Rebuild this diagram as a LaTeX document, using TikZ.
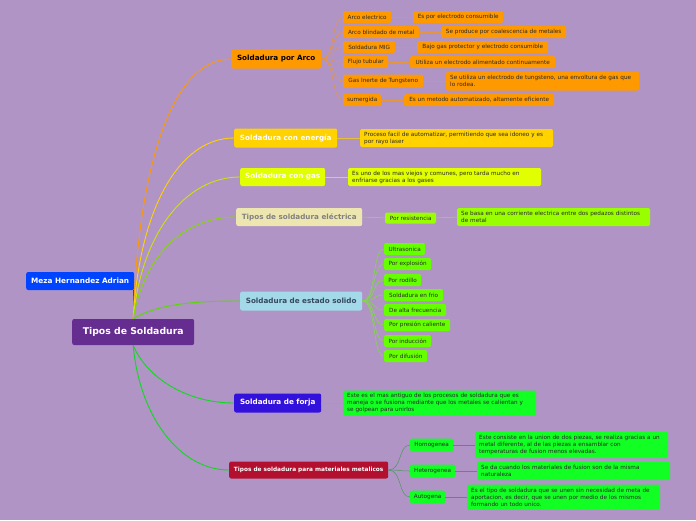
\documentclass[tikz,border=0pt]{standalone}
\usepackage{fontspec}
\setmainfont{DejaVu Sans}
\definecolor{bg}{HTML}{B094C6}
\definecolor{rootc}{HTML}{662D91}
\definecolor{mezac}{HTML}{0044FF}
\definecolor{orangec}{HTML}{FF9900}
\definecolor{goldc}{HTML}{FFD200}
\definecolor{gasc}{HTML}{E1FF00}
\definecolor{beigec}{HTML}{EEE6B0}
\definecolor{limec}{HTML}{99FF00}
\definecolor{greenA}{HTML}{66FF00}
\definecolor{bluelc}{HTML}{A3D9E8}
\definecolor{forjac}{HTML}{3311DD}
\definecolor{greenB}{HTML}{11FF22}
\definecolor{crimc}{HTML}{B3102F}
\definecolor{txtd}{HTML}{2A2A2A}
\definecolor{slatec}{HTML}{34495E}
\tikzset{
  base/.style={rounded corners=2pt, inner sep=0pt, anchor=west, align=center},
  rootbox/.style={base, font=\bfseries\fontsize{9.3}{11}\selectfont, text=white, fill=rootc, minimum width=122pt, minimum height=26pt},
  mainbox/.style={base, font=\bfseries\fontsize{7.2}{8.5}\selectfont, minimum height=19pt},
  subbox/.style={base, rounded corners=1.5pt, font=\fontsize{5.7}{7}\selectfont, text=txtd, minimum height=12pt},
  valbox/.style={subbox, align=left, inner xsep=4pt},
  link/.style={line width=0.9pt},
  sublink/.style={line width=0.5pt},
}
\begin{document}
\begin{tikzpicture}[x=1pt,y=-1pt]
\fill[bg] (0,0) rectangle (696,520);
\useasboundingbox (0,0) rectangle (696,520);

% root and author
\node[rootbox] (root) at (72,332) {Tipos de Soldadura};
\node[mainbox, fill=mezac, text=white, minimum width=108pt, minimum height=18pt, font=\bfseries\fontsize{7.3}{8.5}\selectfont] (meza) at (26,281) {Meza Hernandez Adrian};

% main topics
\node[mainbox, fill=orangec, text=black, minimum width=90pt] (arco) at (231,59) {Soldadura por Arco};
\node[mainbox, fill=goldc, text=white, minimum width=103pt] (ener) at (234,138) {Soldadura con energía};
\node[mainbox, fill=gasc, text=white, minimum width=85pt, minimum height=18pt] (gas) at (240,177) {Soldadura con gas};
\node[mainbox, fill=beigec, text=gray, minimum width=126pt, minimum height=18pt] (elec) at (236,217) {Tipos de soldadura eléctrica};
\node[mainbox, fill=bluelc, text=slatec, minimum width=122pt] (sol) at (240,301) {Soldadura de estado solido};
\node[mainbox, fill=forjac, text=white, minimum width=87pt] (forja) at (234,403) {Soldadura de forja};
\node[mainbox, fill=crimc, text=white, minimum width=159pt, minimum height=17pt, font=\bfseries\fontsize{5.8}{7}\selectfont] (met) at (229,470) {Tipos de soldadura para materiales metalicos};

% main connectors
\draw[link, mezac] (meza.south east) ++(-1,0) coordinate (mz) -- (mz |- root.north);
\draw[link, orangec] (root.north) .. controls +(5,-150) and +(-60,0) .. (arco.west);
\draw[link, goldc] (root.north) .. controls +(6,-110) and +(-55,0) .. (ener.west);
\draw[link, gasc!90!black] (root.north) .. controls +(8,-85) and +(-55,0) .. (gas.west);
\draw[link, limec!85!black] (root.north) .. controls +(10,-60) and +(-55,0) .. (elec.west);
\draw[link, greenA!85!black] (root.north) .. controls +(25,-15) and +(-45,0) .. (sol.west);
\draw[link, greenB!85!black] (root.south) .. controls +(12,30) and +(-50,0) .. (forja.west);
\draw[link, greenB!85!black] (root.south) .. controls +(6,70) and +(-50,0) .. (met.west);

% Arco children
\begin{scope}[every node/.append style={fill=orangec}]
\node[subbox, minimum width=48pt] (a1) at (343,17) {Arco electrico};
\node[subbox, minimum width=90pt] (v1) at (413,17) {Es por electrodo consumible};
\node[subbox, minimum width=76pt] (a2) at (343,32) {Arco blindado de metal};
\node[subbox, minimum width=125pt] (v2) at (441,32) {Se produce por coalescencia de metales};
\node[subbox, minimum width=52pt] (a3) at (343,47) {Soldadura MIG};
\node[subbox, minimum width=131pt] (v3) at (417,47) {Bajo gas protector y electrodo consumible};
\node[subbox, minimum width=45pt] (a4) at (343,62) {Flujo tubular};
\node[subbox, minimum width=145pt] (v4) at (410,62) {Utiliza un electrodo alimentado continuamente};
\node[subbox, minimum width=80pt, minimum height=13pt] (a5) at (343,81) {Gas Inerte de Tungsteno};
\node[valbox, text width=185pt, minimum height=19pt] (v5) at (446,81) {Se utiliza un electrodo de tungsteno, una envoltura de gas que\\lo rodea.};
\node[subbox, minimum width=38pt] (a6) at (343,100) {sumergida};
\node[subbox, minimum width=150pt] (v6) at (404,100) {Es un metodo automatizado, altamente eficiente};
\end{scope}
\foreach \i in {1,...,6}{
  \draw[sublink, orangec!70!bg] (arco.east) .. controls +(14,0) and +(-12,0) .. (a\i.west);
  \draw[sublink, orangec!70!bg] (a\i.east) -- (v\i.west);
}

% energia
\node[valbox, fill=goldc, text width=185pt, minimum height=18pt] (ev) at (360,138) {Proceso facil de automatizar, permitiendo que sea idoneo y es\\por rayo laser};
\draw[sublink, goldc!70!bg] (ener.east) -- (ev.west);

% gas
\node[valbox, fill=gasc, text width=185pt, minimum height=18pt] (gv) at (348,177) {Es uno de los mas viejos y comunes, pero tarda mucho en\\enfriarse gracias a los gases};
\draw[sublink, gasc!70!bg] (gas.east) -- (gv.west);

% electrica
\node[subbox, fill=limec, minimum width=51pt, minimum height=11pt] (e1) at (385,218) {Por resistencia};
\node[valbox, fill=limec, text width=185pt, minimum height=18pt] (e1v) at (457,217) {Se basa en una corriente electrica entre dos pedazos distintos\\de metal};
\draw[sublink, limec!70!bg] (elec.east) -- (e1.west);
\draw[sublink, limec!70!bg] (e1.east) -- (e1v.west);

% estado solido
\begin{scope}[every node/.append style={fill=greenA}]
\node[subbox, minimum width=41pt] (s1) at (384,249) {Ultrasonica};
\node[subbox, minimum width=47pt] (s2) at (384,264) {Por explosión};
\node[subbox, minimum width=37pt] (s3) at (384,280) {Por rodillo};
\node[subbox, minimum width=59pt] (s4) at (384,295) {Soldadura en frio};
\node[subbox, minimum width=62pt] (s5) at (384,310) {De alta frecuencia};
\node[subbox, minimum width=66pt] (s6) at (384,325) {Por presión caliente};
\node[subbox, minimum width=47pt] (s7) at (384,341) {Por inducción};
\node[subbox, minimum width=43pt] (s8) at (384,356) {Por difusión};
\end{scope}
\foreach \i in {1,...,8}{
  \draw[sublink, greenA!70!bg] (sol.east) .. controls +(14,0) and +(-12,0) .. (s\i.west);
}

% forja
\node[valbox, fill=greenB, text width=185pt, minimum height=25pt] (fv) at (343,403) {Este es el mas antiguo de los procesos de soldadura que es\\maneja o se fusiona mediante que los metales se calientan y\\se golpean para unirlos};
\draw[sublink, greenB!70!bg] (forja.east) -- (fv.west);

% metalicos
\begin{scope}[every node/.append style={fill=greenB}]
\node[subbox, minimum width=43pt, minimum height=13pt] (m1) at (410,445) {Homogenea};
\node[valbox, text width=185pt, minimum height=26pt] (m1v) at (475,445) {Este consiste en la union de dos piezas, se realiza gracias a un\\metal diferente, al de las piezas a ensamblar con\\temperaturas de fusion menos elevadas.};
\node[subbox, minimum width=45pt, minimum height=13pt] (m2) at (410,471) {Heterogenea};
\node[valbox, text width=185pt, minimum height=18pt] (m2v) at (477,471) {Se da cuando los materiales de fusion son de la misma\\naturaleza};
\node[subbox, minimum width=35pt, minimum height=13pt] (m3) at (410,497) {Autogena};
\node[valbox, text width=185pt, minimum height=25pt] (m3v) at (467,497) {Es el tipo de soldadura que se unen sin necesidad de meta de\\aportacion, es decir, que se unen por medio de los mismos\\formando un todo unico.};
\end{scope}
\foreach \i in {1,2,3}{
  \draw[sublink, greenB!60!black!60!bg] (met.east) .. controls +(14,0) and +(-12,0) .. (m\i.west);
  \draw[sublink, greenB!60!black!60!bg] (m\i.east) -- (m\i v.west);
}
\end{tikzpicture}
\end{document}
